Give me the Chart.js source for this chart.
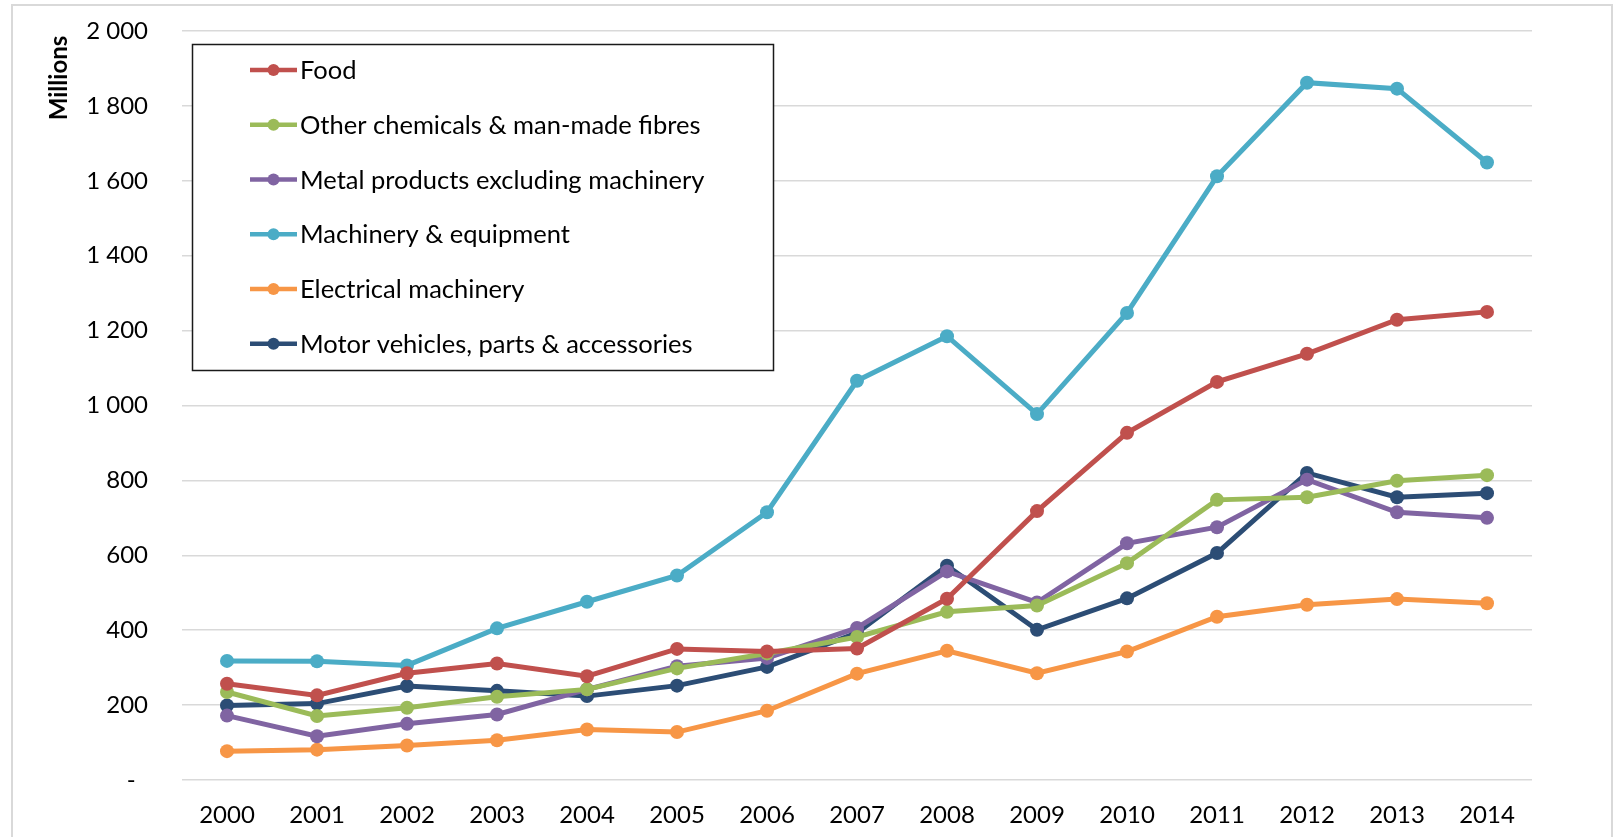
<!DOCTYPE html>
<html>
<head>
<meta charset="utf-8">
<title>Investment by industry, 2000–2014</title>
<script src="https://cdn.jsdelivr.net/npm/chart.js@4/dist/chart.umd.min.js"></script>
<style>
  html, body { margin: 0; padding: 0; background: #ffffff; }
  #wrap { position: relative; width: 1614px; height: 837px; overflow: hidden; }
  canvas { display: block; }
</style>
</head>
<body>
<div id="wrap"><canvas id="chart" width="1614" height="837"></canvas></div>
<script>
// Years on the category axis
const years = ['2000', '2001', '2002', '2003', '2004', '2005', '2006', '2007',
               '2008', '2009', '2010', '2011', '2012', '2013', '2014'];

// Series values, in millions
const food        = [257, 226, 285, 311, 277, 350, 343, 351, 484, 718, 927, 1063, 1138, 1229, 1250];
const chemicals   = [235, 171, 193, 222, 242, 298, 338, 382, 449, 466, 579, 748, 755, 799, 814];
const metal       = [172, 117, 150, 175, 242, 304, 326, 406, 557, 474, 632, 675, 802, 715, 700];
const machinery   = [318, 317, 306, 405, 476, 546, 715, 1066, 1185, 977, 1247, 1612, 1862, 1846, 1649];
const electrical  = [77, 81, 92, 106, 135, 128, 185, 284, 345, 285, 343, 436, 468, 483, 472];
const motor       = [199, 204, 251, 238, 224, 252, 302, 393, 572, 401, 485, 606, 820, 755, 766];

// Series names
const seriesNames = [
  'Food',
  'Other chemicals & man-made fibres',
  'Metal products excluding machinery',
  'Machinery & equipment',
  'Electrical machinery',
  'Motor vehicles, parts & accessories'
];

// Value axis
const yMin = 0;
const yMax = 2000;
const yStep = 200;
const yTitle = 'Millions';

const FONT = 'Lato, "Open Sans", sans-serif';
const colors = ['#C0504D', '#9BBB59', '#8064A2', '#4BACC6', '#F79646', '#2C4D75'];
const values = [food, chemicals, metal, machinery, electrical, motor];

function fmt(v) {
  if (v === 0) return '-  ';
  return String(v).replace(/\B(?=(\d{3})+(?!\d))/g, ' ');
}

const datasets = seriesNames.map((name, i) => ({
  label: name,
  data: values[i],
  borderColor: colors[i],
  backgroundColor: colors[i],
  borderWidth: 5,
  pointRadius: 7,
  pointHoverRadius: 7,
  pointBorderWidth: 0,
  pointBackgroundColor: colors[i],
  tension: 0,
  fill: false
}));

// Frame, axis title and boxed legend
const decorations = {
  id: 'decorations',
  beforeDraw(chart) {
    const ctx = chart.ctx;
    ctx.save();
    ctx.fillStyle = '#ffffff';
    ctx.fillRect(0, 0, chart.width, chart.height);
    ctx.strokeStyle = '#d9d9d9';
    ctx.lineWidth = 2;
    ctx.strokeRect(12, 5, 1600, 900);
    ctx.restore();
  },
  afterDraw(chart) {
    const ctx = chart.ctx;
    ctx.save();
    // rotated axis title
    ctx.translate(59, 78);
    ctx.rotate(-Math.PI / 2);
    ctx.font = 'bold 24px ' + FONT;
    ctx.fillStyle = '#000000';
    ctx.textAlign = 'center';
    ctx.textBaseline = 'middle';
    ctx.fillText(yTitle, 0, 0);
    ctx.restore();

    // legend box
    ctx.save();
    const bx = 192.5, by = 44.5, bw = 581, bh = 326;
    ctx.fillStyle = '#ffffff';
    ctx.fillRect(bx, by, bw, bh);
    ctx.strokeStyle = '#1a1a1a';
    ctx.lineWidth = 1.5;
    ctx.strokeRect(bx, by, bw, bh);
    ctx.font = '25.5px ' + FONT;
    ctx.textBaseline = 'middle';
    ctx.textAlign = 'left';
    chart.data.datasets.forEach((ds, i) => {
      const y = 70 + i * 54.75;
      ctx.strokeStyle = ds.borderColor;
      ctx.lineWidth = 4.5;
      ctx.beginPath();
      ctx.moveTo(250, y);
      ctx.lineTo(297, y);
      ctx.stroke();
      ctx.fillStyle = ds.borderColor;
      ctx.beginPath();
      ctx.arc(273.5, y, 6, 0, Math.PI * 2);
      ctx.fill();
      ctx.fillStyle = '#000000';
      ctx.fillText(ds.label, 300, y + 1);
    });
    ctx.restore();
  }
};

new Chart(document.getElementById('chart'), {
  type: 'line',
  data: { labels: years, datasets: datasets },
  options: {
    responsive: false,
    animation: false,
    events: [],
    layout: { padding: { top: 31, right: 82, left: 0, bottom: 0 } },
    plugins: {
      legend: { display: false },
      tooltip: { enabled: false },
      title: { display: false }
    },
    scales: {
      x: {
        offset: true,
        grid: { display: false, drawTicks: false },
        border: { display: false },
        ticks: {
          color: '#000000',
          font: { family: FONT, size: 24 },
          padding: 21,
          maxRotation: 0,
          autoSkip: false
        },
        afterFit(scale) { scale.height = 57; }
      },
      y: {
        min: yMin,
        max: yMax,
        grid: { color: '#d9d9d9', lineWidth: 1.5, drawTicks: false },
        border: { display: false },
        ticks: {
          stepSize: yStep,
          color: '#000000',
          font: { family: FONT, size: 24 },
          padding: 34,
          callback: (v) => fmt(v)
        },
        afterFit(scale) {
          scale.width = 182;
          scale.paddingTop = 0;
          scale.paddingBottom = 0;
        }
      }
    }
  },
  plugins: [decorations]
});
</script>
</body>
</html>
